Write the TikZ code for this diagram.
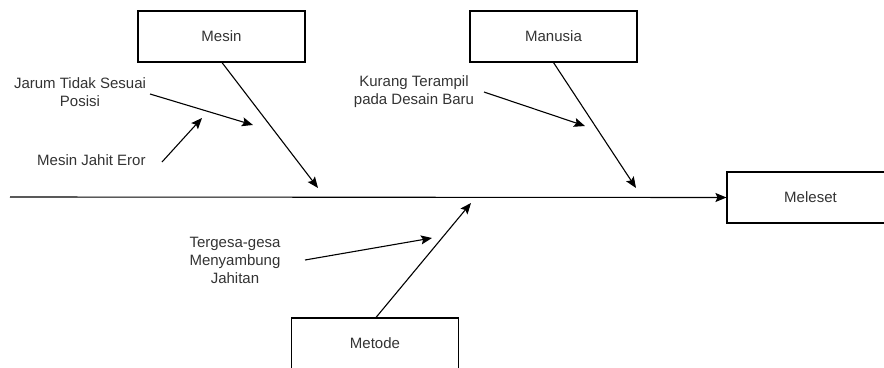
\documentclass[tikz,border=0pt]{standalone}
\usepackage{fontspec}
\setmainfont{Liberation Sans}
\usetikzlibrary{arrows.meta}
\begin{document}
\begin{tikzpicture}[x=1pt,y=-1pt,
  box/.style={draw=black,line width=1.1pt,minimum width=167pt,minimum height=51pt,inner sep=0pt,font=\fontsize{15}{18}\selectfont,text=black!80},
  lbl/.style={align=center,inner sep=0pt,font=\fontsize{15}{18}\selectfont,text=black!80},
  arr/.style={line width=1.1pt,-{Stealth[length=11pt,width=9pt,inset=2pt]}}]
\useasboundingbox (0,0) rectangle (884,367);
\clip (0,0) rectangle (884,367);
\node[box] (mesin) at (221.5,36.5) {Mesin};
\node[box] (manusia) at (553.5,36.5) {Manusia};
\node[box] (meleset) at (810.5,197.5) {Meleset};
\node[box] (metode) at (375,343.5) {Metode};
\node[lbl] (jarum) at (80,92) {Jarum Tidak Sesuai\\Posisi};
\node[lbl,anchor=west] (eror) at (37,160) {Mesin Jahit Eror};
\node[lbl] (kurang) at (414,92) {Kurang Terampil\\pada Desain Baru};
\node[lbl] (terge) at (235,260) {Tergesa-gesa\\Menyambung\\Jahitan};
\coordinate (spineL) at (10,197);
\coordinate (t1) at (318,188);
\coordinate (t2) at (636,188);
\coordinate (t3) at (471,203);
\coordinate (j1) at (150,94);
\coordinate (j2) at (253,125);
\coordinate (e1) at (162,162);
\coordinate (e2) at (202,118);
\coordinate (k1) at (484,92);
\coordinate (k2) at (585,126);
\coordinate (g1) at (305,260);
\coordinate (g2) at (432,238);
\draw[arr] (spineL) -- (meleset.west);
\draw[arr] (mesin.south) ++(0.5,0) -- (t1);
\draw[arr] (manusia.south) -- (t2);
\draw[arr] (metode.north) ++(1,0) -- (t3);
\draw[arr] (j1) -- (j2);
\draw[arr] (e1) -- (e2);
\draw[arr] (k1) -- (k2);
\draw[arr] (g1) -- (g2);
\end{tikzpicture}
\end{document}
